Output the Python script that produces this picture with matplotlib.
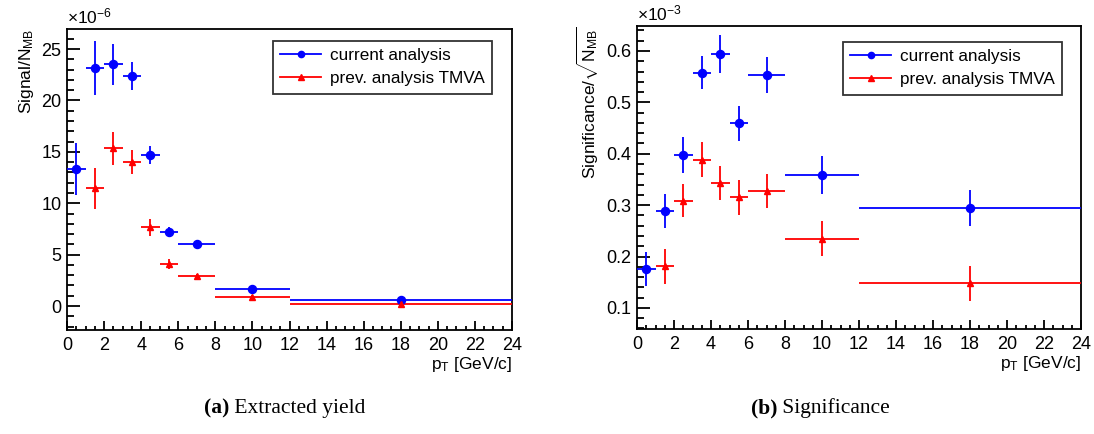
import matplotlib
matplotlib.use("Agg")
import matplotlib.pyplot as plt
from matplotlib.ticker import MultipleLocator
from matplotlib.lines import Line2D
import numpy as np

plt.rcParams['font.family'] = ['Liberation Sans', 'DejaVu Sans']
plt.rcParams['mathtext.fontset'] = 'custom'
plt.rcParams['mathtext.rm'] = 'Liberation Sans'
plt.rcParams['mathtext.it'] = 'Liberation Sans:italic'

# bins (pT)
pt_cur = [0.5, 1.5, 2.5, 3.5, 4.5, 5.5, 7, 10, 18]
pt_cur_err = [0.5, 0.5, 0.5, 0.5, 0.5, 0.5, 1, 2, 6]
pt_prev = [1.5, 2.5, 3.5, 4.5, 5.5, 7, 10, 18]
pt_prev_err = [0.5, 0.5, 0.5, 0.5, 0.5, 1, 2, 6]

# (a) yield, units of 1e-6
yield_cur = [13.35, 23.15, 23.5, 22.4, 14.7, 7.2, 6.02, 1.68, 0.6]
yield_cur_err = [2.5, 2.65, 2.0, 1.35, 0.9, 0.45, 0.25, 0.15, 0.1]
yield_prev = [11.45, 15.35, 14.0, 7.65, 4.1, 2.95, 0.88, 0.22]
yield_prev_err = [2.0, 1.6, 1.2, 0.8, 0.45, 0.15, 0.15, 0.1]

# (b) significance, units of 1e-3
sig_cur = [0.176, 0.288, 0.398, 0.558, 0.594, 0.459, 0.554, 0.358, 0.294]
sig_cur_err = [0.033, 0.033, 0.035, 0.032, 0.037, 0.034, 0.035, 0.037, 0.035]
sig_prev = [0.181, 0.309, 0.388, 0.343, 0.315, 0.327, 0.235, 0.148]
sig_prev_err = [0.034, 0.033, 0.034, 0.033, 0.034, 0.033, 0.034, 0.034]

W, H = 1094, 434
fig = plt.figure(figsize=(W / 100, H / 100), dpi=100)

def ax_rect(l, r, t, b):
    return [l / W, (H - b) / H, (r - l) / W, (b - t) / H]

axL = fig.add_axes(ax_rect(67, 512, 29, 330))
axR = fig.add_axes(ax_rect(637, 1081, 26, 329))

BLUE = '#0000ff'
RED = '#ff0000'

def draw(ax, ycur, ycur_e, yprev, yprev_e, ylim, ymaj, ymin, ylabel, mult, ytickfmt, legpos):
    ax.errorbar(pt_cur, ycur, xerr=pt_cur_err, yerr=ycur_e, fmt='o', color=BLUE,
                ms=5.8, elinewidth=1.3, capsize=0, zorder=3)
    ax.errorbar(pt_prev, yprev, xerr=pt_prev_err, yerr=yprev_e, fmt='^', color=RED,
                ms=5.0, elinewidth=1.3, capsize=0, zorder=3)
    ax.set_xlim(0, 24)
    ax.set_ylim(*ylim)
    ax.xaxis.set_major_locator(MultipleLocator(2))
    ax.xaxis.set_minor_locator(MultipleLocator(0.5))
    ax.yaxis.set_major_locator(MultipleLocator(ymaj))
    ax.yaxis.set_minor_locator(MultipleLocator(ymin))
    ax.yaxis.set_major_formatter(plt.FuncFormatter(ytickfmt))
    ax.tick_params(axis='both', which='both', direction='in', top=False, right=False,
                   labelsize=13, width=1.3, colors='black')
    ax.tick_params(axis='x', which='major', length=6.5, pad=5)
    ax.tick_params(axis='x', which='minor', length=3.2)
    ax.tick_params(axis='y', which='major', length=9.5, pad=4)
    ax.tick_params(axis='y', which='minor', length=4.8)
    for s in ax.spines.values():
        s.set_linewidth(1.3)
    ax.set_xlabel(r'p$_{\mathrm{T}}$ [GeV/c]', fontsize=12.5, ha='right', x=1.0, labelpad=1)
    ax.set_ylabel(ylabel, fontsize=12.5, ha='right', y=1.0, labelpad=4)
    ax.text(0.0, 1.01, mult, transform=ax.transAxes, fontsize=12.5, ha='left', va='bottom')
    h1 = Line2D([], [], color=BLUE, marker='o', ms=4.5, lw=1.3)
    h2 = Line2D([], [], color=RED, marker='^', ms=4.0, lw=1.3)
    leg = ax.legend([h1, h2], ['current analysis', 'prev. analysis TMVA'],
                    loc='upper left', bbox_to_anchor=legpos, fontsize=12.3,
                    frameon=True, fancybox=False, edgecolor='black', handlelength=2.4,
                    borderpad=0.45, labelspacing=0.45, handletextpad=0.5, borderaxespad=0)
    leg.get_frame().set_linewidth(1.3)
    return ax

def fmt_int(v, p):
    return '%d' % round(v)

def fmt_1(v, p):
    return '%.1f' % v

draw(axL, yield_cur, yield_cur_err, yield_prev, yield_prev_err, (-2.33, 26.95), 5, 1,
     r'Signal/N$_{\mathrm{MB}}$', r'$\times$10$^{-6}$', fmt_int,
     ((272.7 - 67) / 445, 1 - (40.7 - 29) / 301))
draw(axR, sig_cur, sig_cur_err, sig_prev, sig_prev_err, (0.059, 0.6486), 0.1, 0.02,
     r'Significance/$\sqrt{\mathrm{N_{MB}}}$', r'$\times$10$^{-3}$', fmt_1,
     ((842.7 - 637) / 444, 1 - (41.7 - 26) / 303))

# captions
cap_font = ['Liberation Serif', 'DejaVu Serif']
for xc, lab, txt in [(229, '(a)', ' Extracted yield'), (777, '(b)', ' Significance')]:
    fig.text(xc / W, 1 - 408 / H, lab, fontsize=15.5, family=cap_font, fontweight='bold',
             ha='right', va='center')
    fig.text(xc / W, 1 - 408 / H, txt, fontsize=15.5, family=cap_font, ha='left', va='center')

fig.savefig('out.png', dpi=100)
